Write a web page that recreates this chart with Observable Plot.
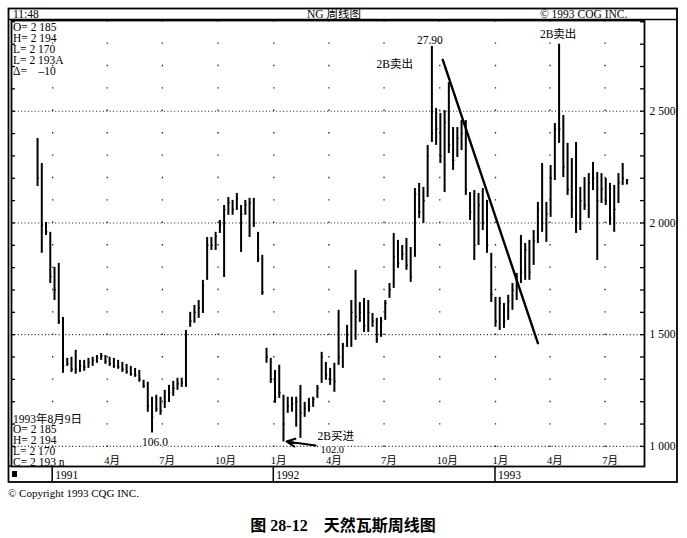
<!DOCTYPE html>
<html>
<head>
<meta charset="utf-8">
<script src="https://cdn.jsdelivr.net/npm/d3@7"></script>
<script src="https://cdn.jsdelivr.net/npm/@observablehq/plot@0.6"></script>
<style>
  html, body { margin: 0; padding: 0; background: #fff; }
  #chart svg text { white-space: pre; }
</style>
</head>
<body>
<div id="chart"></div>
<script>
// ---- data (weekly bars, NG natural gas, price ×1000 as on the axis) ----
const firstWeek = "1990-12-07";
const lastWeekEnd = "1993-08-07";
const highs = [
  2378, 2266, 2002, 1958, 1801, 1819, 1577, 1394, 1399, 1430,
  1385, 1385, 1394, 1399, 1407, 1416, 1407, 1399, 1394, 1385,
  1376, 1367, 1358, 1349, 1340, 1296, 1287, 1220, 1229, 1220,
  1251, 1273, 1291, 1305, 1305, 1519, 1600, 1631, 1653, 1743,
  1935, 1935, 1958, 2011, 2078, 2114, 2101, 2132, 2078, 2101,
  2110, 2110, 1958, 1855, 1439, 1394, 1340, 1363, 1229, 1220,
  1220, 1220, 1273, 1197, 1215, 1220, 1273, 1421, 1376, 1349,
  1372, 1609, 1461, 1542, 1653, 1788, 1644, 1662, 1653, 1595,
  1573, 1577, 1653, 1729, 1953, 1922, 1899, 1931, 1890, 2154,
  2177, 2159, 2347, 2790, 2512, 2490, 2503, 2628, 2427, 2427,
  2458, 2458, 2136, 2145, 2132, 2154, 2101, 1864, 1667, 1667,
  1640, 1676, 1729, 1774, 1944, 1908, 1922, 1966, 2092, 2266,
  2092, 2257, 2445, 2800, 2481, 2356, 2288, 2360, 2159, 2203,
  2221, 2271, 2226, 2221, 2199, 2177, 2168, 2221, 2266, 2194
];
const lows = [
  2163, 1864, 1944, 1729, 1653, 1546, 1327, 1358, 1331, 1323,
  1331, 1336, 1349, 1358, 1372, 1385, 1367, 1358, 1349, 1345,
  1331, 1323, 1314, 1309, 1287, 1260, 1153, 1060, 1153, 1139,
  1170, 1197, 1224, 1251, 1264, 1264, 1533, 1551, 1573, 1595,
  1743, 1877, 1877, 1953, 1756, 2034, 2034, 2056, 1868, 2034,
  1935, 1980, 1823, 1676, 1372, 1282, 1193, 1215, 1020, 1148,
  1153, 1086, 1036, 1130, 1153, 1175, 1215, 1282, 1296, 1273,
  1242, 1363, 1349, 1443, 1443, 1475, 1555, 1510, 1510, 1533,
  1461, 1488, 1564, 1662, 1707, 1797, 1832, 1788, 1734, 1846,
  2020, 1998, 2114, 2360, 2347, 2266, 2136, 2311, 2235, 2293,
  2324, 2123, 2011, 1832, 1899, 1966, 1864, 1644, 1533, 1519,
  1528, 1564, 1609, 1653, 1729, 1743, 1743, 1810, 1908, 1958,
  1913, 2025, 2190, 2356, 2203, 2123, 2020, 1953, 1966, 2056,
  2020, 2145, 1832, 2087, 2078, 1989, 1958, 2087, 2168, 2170
];
const closes = [
  2200, 1990, 1960, 1760, 1700, 1560, 1360, 1370, 1345, 1345,
  1360, 1355, 1375, 1385, 1395, 1405, 1380, 1370, 1360, 1355,
  1345, 1335, 1325, 1320, 1300, 1270, 1180, 1130, 1170, 1160,
  1200, 1240, 1260, 1280, 1285, 1500, 1560, 1600, 1620, 1720,
  1900, 1900, 1940, 1990, 2060, 2090, 2060, 2110, 2040, 2080,
  2090, 2000, 1840, 1690, 1400, 1300, 1220, 1240, 1100, 1180,
  1190, 1200, 1150, 1170, 1180, 1210, 1260, 1400, 1320, 1300,
  1290, 1400, 1450, 1500, 1600, 1580, 1600, 1540, 1600, 1560,
  1480, 1560, 1640, 1700, 1850, 1820, 1860, 1810, 1760, 2130,
  2050, 2100, 2300, 2400, 2420, 2300, 2450, 2350, 2280, 2380,
  2400, 2150, 2050, 1900, 2080, 2000, 1900, 1680, 1560, 1640,
  1560, 1650, 1700, 1760, 1780, 1880, 1780, 1920, 2060, 2000,
  2040, 2200, 2420, 2420, 2250, 2150, 2060, 2000, 2100, 2080,
  2180, 2200, 2100, 2150, 2100, 2020, 2060, 2180, 2200, 2193
];
const gridLevels = [1000, 1500, 2000, 2500];
const gridLabels = ["1 000", "1 500", "2 000", "2 500"];
const minorLevels = [1000, 1100, 1200, 1300, 1400, 1500, 1600, 1700, 1800, 1900,
                     2000, 2100, 2200, 2300, 2400, 2500, 2600, 2700, 2800, 2900];
const quarterStarts = ["1991-01-01", "1991-04-01", "1991-07-01", "1991-10-01",
                       "1992-01-01", "1992-04-01", "1992-07-01", "1992-10-01",
                       "1993-01-01", "1993-04-01", "1993-07-01"];
const monthTicks = ["1991-04-01", "1991-07-01", "1991-10-01", "1992-01-01", "1992-04-01",
                    "1992-07-01", "1992-10-01", "1993-01-01", "1993-04-01", "1993-07-01"];
const monthNames = ["4月", "7月", "10月", "1月", "4月", "7月", "10月", "1月", "4月", "7月"];
const yearStarts = ["1991-01-01", "1992-01-01", "1993-01-01"];
const yearNames = ["1991", "1992", "1993"];
const trendDates = ["1992-10-06", "1993-03-12"];
const trendValues = [2730, 1462];
const arrowFrom = {date: "1992-03-10", value: 1004};
const arrowTo = {date: "1992-01-22", value: 1022};
const topInfo = ["O= 2 185", "H= 2 194", "L= 2 170", "L= 2 193A", "Δ=    –10"];
const bottomInfo = ["1993年8月9日", "O= 2 185", "H= 2 194", "L= 2 170", "C= 2 193 n"];

// ---- build tables ----
const barDates = d3.utcFriday.range(new Date(firstWeek + "T00:00Z"), new Date(lastWeekEnd + "T00:00Z"));
const bars = barDates.map((date, i) => ({date, high: highs[i], low: lows[i], close: closes[i]}));
const P = s => new Date(s + "T00:00Z");
const trend = trendDates.map((d, i) => ({date: P(d), value: trendValues[i]}));
const months = monthTicks.map((d, i) => ({date: P(d), text: monthNames[i]}));
const grid = gridLevels.map((v, i) => ({value: v, text: gridLabels[i]}));

const FONT = "'Liberation Serif', 'Noto Sans CJK SC', serif";
const ink = "#000";

const lbl = (i, key, text, opts) =>
  Plot.text([bars[i]], {x: "date", y: key, text: () => text, fontSize: 11.5, fill: ink, ...opts});

const plot = Plot.plot({
  width: 687,
  height: 538,
  marginLeft: 11,
  marginRight: 43,
  marginTop: 20,
  marginBottom: 72,
  style: {fontFamily: FONT, fontSize: "11px", background: "#fff", color: ink},
  x: {type: "utc", domain: [P("1990-10-25"), P("1993-09-04")], axis: null},
  y: {domain: [910, 2906], axis: null},
  marks: [
    Plot.ruleY(gridLevels, {stroke: "#222", strokeWidth: 1.1, strokeDasharray: "1,2.4"}),
    Plot.ruleX(quarterStarts.map(P), {stroke: "#222", strokeWidth: 1.3, strokeDasharray: "1.4,21"}),
    Plot.ruleY(minorLevels, {stroke: ink, strokeWidth: 1.3, insetRight: 629}),
    Plot.ruleY(minorLevels, {stroke: ink, strokeWidth: 1.3, insetLeft: 629}),
    Plot.ruleX(bars, {x: "date", y1: "low", y2: "high", stroke: ink, strokeWidth: 2}),
    Plot.ruleY(bars, {y: "close", x1: "date", x2: d => d3.utcDay.offset(d.date, 3), stroke: ink, strokeWidth: 1.4}),
    Plot.line(trend, {x: "date", y: "value", stroke: ink, strokeWidth: 2.4}),
    Plot.arrow([{x1: P(arrowFrom.date), y1: arrowFrom.value, x2: P(arrowTo.date), y2: arrowTo.value}],
      {x1: "x1", y1: "y1", x2: "x2", y2: "y2", stroke: ink, strokeWidth: 2, headLength: 7, headAngle: 50}),
    lbl(93, "high", "27.90", {dy: -6, dx: -2}),
    lbl(93, "high", "2B卖出", {dy: 18, dx: -19, textAnchor: "end"}),
    lbl(123, "high", "2B卖出", {dy: -10, dx: -1}),
    lbl(27, "low", "106.0", {dy: 9, dx: 3, stroke: "#fff", strokeWidth: 2.5, paintOrder: "stroke"}),
    lbl(58, "low", "2B买进", {dy: -6, dx: 34, textAnchor: "start"}),
    lbl(58, "low", "102.0", {dy: 8, dx: 37, textAnchor: "start", fontSize: 10.5, stroke: "#fff", strokeWidth: 2.5, paintOrder: "stroke"}),
    Plot.text(grid, {y: "value", text: "text", frameAnchor: "right", dx: 5, textAnchor: "start", fontSize: 11.5, fill: ink}),
    Plot.text(months, {x: "date", text: "text", frameAnchor: "bottom", dy: -3, dx: -3, textAnchor: "start", fontSize: 10.5, fill: ink}),
    Plot.frame({stroke: ink, strokeWidth: 1.8})
  ]
});

// ---- panel decoration: header, outer frame, year row, info texts ----
const svg = d3.select(plot);
const xs = (plot.scale && plot.scale("x") && plot.scale("x").apply)
  ? (d => plot.scale("x").apply(d))
  : d3.scaleUtc([P("1990-10-25"), P("1993-09-04")], [11, 644]);
const deco = svg.append("g").attr("fill", "none").attr("stroke", ink);
deco.append("rect").attr("x", 8.5).attr("y", 8.5).attr("width", 668.5).attr("height", 473.5).attr("stroke-width", 1.8);
deco.append("line").attr("x1", 8.5).attr("x2", 677).attr("y1", 19.5).attr("y2", 19.5).attr("stroke-width", 1.5);
deco.append("line").attr("x1", 8.5).attr("x2", 11).attr("y1", 466).attr("y2", 466).attr("stroke-width", 1.5);
yearStarts.forEach(d => {
  const x = xs(P(d));
  deco.append("line").attr("x1", x).attr("x2", x).attr("y1", 466).attr("y2", 482).attr("stroke-width", 1.5);
});
svg.append("rect").attr("x", 12).attr("y", 471).attr("width", 5).attr("height", 6).attr("fill", ink);

const txt = svg.append("g").attr("fill", ink).style("font-family", FONT).style("font-size", "11.5px");
const put = (x, y, s, anchor = "start", size, weight) => {
  const t = txt.append("text").attr("x", x).attr("y", y).attr("dy", "0.35em").attr("text-anchor", anchor).text(s);
  if (size) t.style("font-size", size);
  if (weight) t.style("font-weight", weight);
  return t;
};
put(13, 14, "11:48");
put(334, 14, "NG 周线图", "middle");
put(540, 14, "© 1993 COG INC.");
topInfo.forEach((s, i) => put(13, 26.5 + i * 11.2, s));
bottomInfo.forEach((s, i) => put(13, 418.5 + i * 10.9, s));
yearStarts.forEach((d, i) => put(xs(P(d)) + 3, 474.5, yearNames[i]));
put(8, 493, "© Copyright 1993 CQG INC.", "start", "11px");
put(343, 525, "图 28-12    天然瓦斯周线图", "middle", "16px", 600);

document.getElementById("chart").appendChild(plot);
</script>
</body>
</html>
